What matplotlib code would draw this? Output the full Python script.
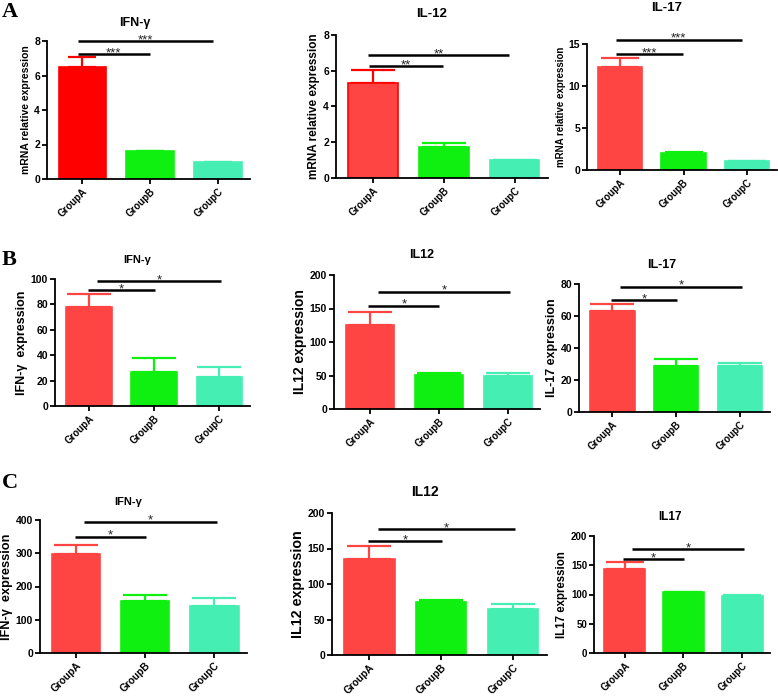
import matplotlib
matplotlib.use("Agg")
import matplotlib.pyplot as plt

plt.rcParams['font.family'] = ['Liberation Sans', 'DejaVu Sans']
plt.rcParams['font.weight'] = 'bold'

groups = ['GroupA', 'GroupB', 'GroupC']

# row A : mRNA relative expression
a_ifng = [6.5, 1.6, 1.0]
a_ifng_err = [0.55, 0.03, 0.0]
a_il12 = [5.3, 1.75, 1.0]
a_il12_err = [0.75, 0.2, 0.0]
a_il17 = [12.3, 2.05, 1.05]
a_il17_err = [1.0, 0.1, 0.0]

# row B
b_ifng = [78, 27, 23]
b_ifng_err = [10, 11, 8]
b_il12 = [125, 51, 50]
b_il12_err = [20, 2, 3]
b_il17 = [63, 29, 28.5]
b_il17_err = [4.5, 4, 2]

# row C
c_ifng = [298, 157, 140]
c_ifng_err = [27, 18, 26]
c_il12 = [135, 74, 65]
c_il12_err = [18, 4, 7]
c_il17 = [143, 104, 98]
c_il17_err = [12, 1, 1]

# significance bars (height, stars), first A vs B then A vs C
a_ifng_sig = [(7.25, '***'), (8.0, '***')]
a_il12_sig = [(6.27, '**'), (6.88, '**')]
a_il17_sig = [(13.8, '***'), (15.5, '***')]
b_ifng_sig = [(91, '*'), (98.5, '*')]
b_il12_sig = [(154, '*'), (175, '*')]
b_il17_sig = [(69.7, '*'), (78.3, '*')]
c_ifng_sig = [(350, '*'), (395, '*')]
c_il12_sig = [(160, '*'), (177, '*')]
c_il17_sig = [(160, '*'), (177, '*')]

W, H = 778, 698
fig = plt.figure(figsize=(W / 100, H / 100), dpi=100)

red = '#FF4444'
green = '#10F010'
teal = '#45EFB3'


def px_axes(l, t, r, b):
    return fig.add_axes([l / W, 1 - b / H, (r - l) / W, (b - t) / H])


def panel(rect, vals, errs, sig, ymax, yticks, ylabel, title, tpos,
          ylsize=7.5, tsize=9, colors=(red, green, teal), edges=None, spans=None, cap=7,
          xtsize=7, ytsize=7.5):
    ax = px_axes(*rect)
    x = range(len(groups))
    if edges is None:
        edges = colors
    ax.bar(x, vals, width=0.7, color=colors, edgecolor=edges, linewidth=1.2, zorder=2)
    for i in x:
        ax.errorbar(i, vals[i], yerr=[[0], [errs[i]]], color=edges[i],
                    capsize=cap, elinewidth=1.6, capthick=1.6, zorder=1)
    ax.set_xlim(-0.52, 2.47)
    ax.set_ylim(0, ymax)
    ax.set_yticks(yticks)
    ax.set_xticks(list(x))
    ax.set_xticklabels(groups, rotation=45, ha='right', rotation_mode='anchor', fontsize=xtsize, fontweight='bold')
    for lab in ax.get_yticklabels():
        lab.set_fontsize(ytsize)
        lab.set_fontweight('bold')
    ax.spines['top'].set_visible(False)
    ax.spines['right'].set_visible(False)
    ax.spines['left'].set_linewidth(1.3)
    ax.spines['bottom'].set_linewidth(1.3)
    ax.tick_params(width=1.3, length=3.5, pad=1.5)
    ax.set_ylabel(ylabel, fontsize=ylsize, fontweight='bold', labelpad=2)
    if spans is None:
        spans = [(-0.02, 1.01), (0.12, 2.03)]
    for (h, s), (x0, x1) in zip(sig, spans):
        ax.plot([x0, x1], [h, h], color='black', lw=1.8, clip_on=False, solid_capstyle='butt')
        ax.annotate(s, ((x0 + x1) / 2, h), xytext=(0, -1.5), textcoords='offset points',
                    ha='center', va='baseline', fontsize=9.5, fontweight='normal',
                    color='#222222', annotation_clip=False)
    fig.text(tpos[0] / W, 1 - tpos[1] / H, title, ha='center', va='center', fontsize=tsize, fontweight='bold')
    return ax


a_spans = [(-0.06, 0.99), (-0.07, 1.92)]
panel((47, 41, 250, 179), a_ifng, a_ifng_err, a_ifng_sig, 8, [0, 2, 4, 6, 8], 'mRNA relative expression',
      'IFN-γ', (135, 23), colors=('#FF0000', green, teal), spans=a_spans, cap=10)
panel((336, 35, 548, 178), a_il12, a_il12_err, a_il12_sig, 8, [0, 2, 4, 6, 8], 'mRNA relative expression',
      'IL-12', (432, 14), ylsize=8.5, tsize=9.5, edges=('#FF0000', green, teal), spans=a_spans, cap=16)
panel((587, 44, 777, 170), a_il17, a_il17_err, a_il17_sig, 15, [0, 5, 10, 15], 'mRNA relative expression',
      'IL-17', (667, 8), ylsize=7, tsize=9.5, spans=a_spans, cap=14)

panel((55, 279, 250, 406), b_ifng, b_ifng_err, b_ifng_sig, 100, [0, 20, 40, 60, 80, 100], 'IFN-γ  expression',
      'IFN-γ', (137, 260), ylsize=9, tsize=8, cap=16)
panel((334, 275, 540, 409), b_il12, b_il12_err, b_il12_sig, 200, [0, 50, 100, 150, 200], 'IL12 expression',
      'IL12', (422, 255), ylsize=10, cap=16)
panel((579, 284, 770, 412), b_il17, b_il17_err, b_il17_sig, 80, [0, 20, 40, 60, 80], 'IL-17 expression',
      'IL-17', (662, 265), ylsize=9, cap=16)

panel((40, 520, 247, 653), c_ifng, c_ifng_err, c_ifng_sig, 400, [0, 100, 200, 300, 400], 'IFN-γ  expression',
      'IFN-γ', (128, 502), ylsize=9.2, tsize=8, cap=16, xtsize=7.3)
panel((332, 513, 547, 655), c_il12, c_il12_err, c_il12_sig, 200, [0, 50, 100, 150, 200], 'IL12 expression',
      'IL12', (425, 492), ylsize=10.3, tsize=10, cap=16, xtsize=7.3)
panel((594, 536, 770, 653), c_il17, c_il17_err, c_il17_sig, 200, [0, 50, 100, 150, 200], 'IL17 expression',
      'IL17', (670, 517), ylsize=8.3, tsize=8.5, cap=14, xtsize=7, ytsize=7)

for letter, y in [('A', 12), ('B', 260), ('C', 483)]:
    fig.text(2 / W, 1 - y / H, letter, ha='left', va='center', fontsize=16, fontweight='bold',
             family='Liberation Serif')

fig.savefig('out.png', dpi=100)
